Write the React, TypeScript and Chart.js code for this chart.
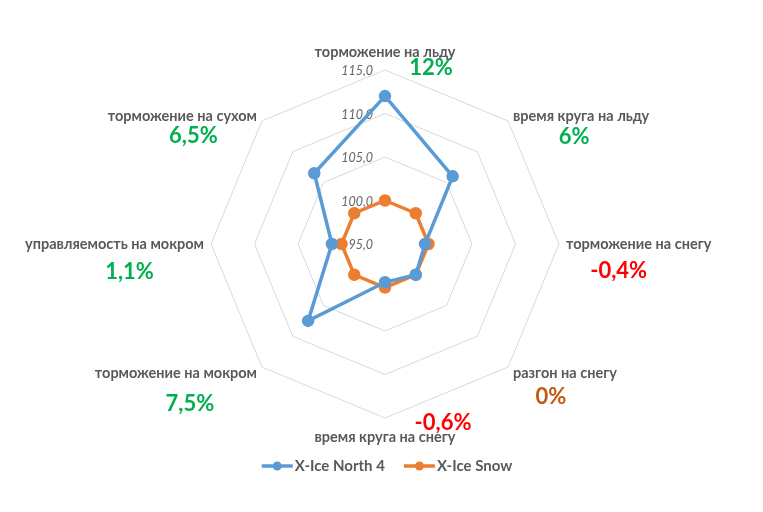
import React, { useEffect, useRef } from "react";
import { Chart, ChartOptions, Plugin, registerables } from "chart.js";

Chart.register(...registerables);

const categories = [
  "торможение на льду",
  "время круга на льду",
  "торможение на снегу",
  "разгон на снегу",
  "время круга на снегу",
  "торможение на мокром",
  "управляемость на мокром",
  "торможение на сухом",
];
const northValues = [112, 106, 99.6, 100, 99.4, 107.5, 101.1, 106.5];
const snowValues = [100, 100, 100, 100, 100, 100, 100, 100];
const deltaValues = [12, 6, -0.4, 0, -0.6, 7.5, 1.1, 6.5];
const tickValues = [95, 100, 105, 110, 115];
const seriesNames = ["X-Ice North 4", "X-Ice Snow"];

const BLUE = "#5B9BD5";
const ORANGE = "#ED7D31";
const LABEL_GREY = "#595959";
const FONT = "Lato, 'Open Sans', sans-serif";

// where each percentage sits, relative to the centre of its category label
const deltaOffsets: [number, number][] = [
  [46, 16],
  [-7, 21],
  [-20, 27],
  [-14, 24],
  [58, -14],
  [14, 31],
  [15, 28],
  [11, 20],
];

const fmtDelta = (v: number) => String(v).replace(".", ",") + "%";
const deltaColor = (v: number) => (v > 0 ? "#00B050" : v < 0 ? "#FF0000" : "#C55A11");

const tickPlugin: Plugin<"radar"> = {
  id: "tickLabels",
  beforeDatasetsDraw(chart) {
    const scale: any = chart.scales.r;
    const ctx = chart.ctx;
    ctx.save();
    ctx.font = `italic 12.5px ${FONT}`;
    ctx.fillStyle = "#666666";
    ctx.textAlign = "right";
    ctx.textBaseline = "middle";
    tickValues.forEach((v) => {
      const d = scale.getDistanceFromCenterForValue(v);
      ctx.fillText(v.toFixed(1).replace(".", ","), scale.xCenter - 12, scale.yCenter - d + 1);
    });
    ctx.restore();
  },
};

const labelPlugin: Plugin<"radar"> = {
  id: "categoryLabels",
  afterDraw(chart) {
    const scale: any = chart.scales.r;
    const ctx = chart.ctx;
    ctx.save();
    ctx.textBaseline = "middle";
    categories.forEach((label, i) => {
      const p = scale.getPointPosition(i, scale.drawingArea + 7);
      ctx.font = `bold 14.5px ${FONT}`;
      const w = ctx.measureText(label).width;
      const dx = p.x - scale.xCenter;
      let cx = p.x;
      let cy = p.y;
      if (Math.abs(dx) < 1) {
        cy = p.y < scale.yCenter ? p.y - 11 : p.y + 12;
      } else if (dx > 0) {
        cx = p.x + w / 2;
        cy = p.y + (p.y > scale.yCenter + 1 ? 1 : 0);
      } else {
        cx = p.x - w / 2;
        cy = p.y + (p.y > scale.yCenter + 1 ? 1 : 0);
      }
      ctx.fillStyle = LABEL_GREY;
      ctx.textAlign = "center";
      ctx.fillText(label, cx, cy);

      const [ox, oy] = deltaOffsets[i];
      ctx.font = `bold 22px ${FONT}`;
      ctx.fillStyle = deltaColor(deltaValues[i]);
      ctx.fillText(fmtDelta(deltaValues[i]), cx + ox, cy + oy);
    });

    // legend
    const colors = [BLUE, ORANGE];
    ctx.font = `bold 15px ${FONT}`;
    const widths = seriesNames.map((n) => ctx.measureText(n).width);
    const lineW = 31;
    const gap = 2;
    const itemGap = 19;
    const total = widths.reduce((a, b) => a + b, 0) + 2 * (lineW + gap) + itemGap;
    let x = scale.xCenter + 2 - total / 2;
    const y = 466;
    seriesNames.forEach((n, i) => {
      ctx.strokeStyle = colors[i];
      ctx.lineWidth = 3.5;
      ctx.beginPath();
      ctx.moveTo(x, y);
      ctx.lineTo(x + lineW, y);
      ctx.stroke();
      ctx.fillStyle = colors[i];
      ctx.beginPath();
      ctx.arc(x + lineW / 2, y, 4.5, 0, Math.PI * 2);
      ctx.fill();
      ctx.fillStyle = LABEL_GREY;
      ctx.textAlign = "left";
      ctx.fillText(n, x + lineW + gap, y);
      x += lineW + gap + widths[i] + itemGap;
    });
    ctx.restore();
  },
};

const App: React.FC = () => {
  const canvasRef = useRef<HTMLCanvasElement | null>(null);

  useEffect(() => {
    if (!canvasRef.current) return;
    const chart = new Chart(canvasRef.current, {
      type: "radar",
      data: {
        labels: categories,
        datasets: [
          {
            label: seriesNames[0],
            data: northValues,
            borderColor: BLUE,
            backgroundColor: BLUE,
            pointBackgroundColor: BLUE,
            pointBorderColor: BLUE,
            borderWidth: 3.5,
            pointRadius: 4.5,
            fill: false,
          },
          {
            label: seriesNames[1],
            data: snowValues,
            borderColor: ORANGE,
            backgroundColor: ORANGE,
            pointBackgroundColor: ORANGE,
            pointBorderColor: ORANGE,
            borderWidth: 3.5,
            pointRadius: 4.5,
            fill: false,
          },
        ],
      },
      options: {
        responsive: true,
        maintainAspectRatio: false,
        animation: false,
        layout: { padding: { top: 70, bottom: 94, left: 211, right: 204 } },
        plugins: {
          legend: { display: false },
          tooltip: { enabled: false },
        },
        scales: {
          r: {
            min: 95,
            max: 115,
            ticks: { stepSize: 5, display: false },
            grid: { color: "#D9D9D9", lineWidth: 1 },
            angleLines: { display: false },
            pointLabels: { display: false },
          },
        },
      } as ChartOptions<"radar">,
      plugins: [tickPlugin, labelPlugin],
    });
    return () => chart.destroy();
  }, []);

  return (
    <div style={{ position: "fixed", left: 0, top: 0, width: 763, height: 512, background: "#fff" }}>
      <canvas ref={canvasRef}></canvas>
    </div>
  );
};

export default App;
